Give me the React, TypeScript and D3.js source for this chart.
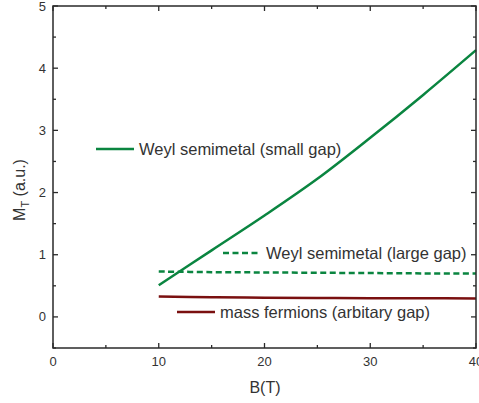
import * as d3 from "d3";
import React from "react";

const width = 479;
const height = 403;
const margin = { top: 6, right: 3, bottom: 55, left: 53 };

// B field (T)
const fieldB = [10, 15, 20, 25, 30, 35, 40];
const smallGap = [0.51, 1.07, 1.63, 2.22, 2.88, 3.57, 4.29];
const largeGap = [0.73, 0.72, 0.715, 0.71, 0.705, 0.70, 0.70];
const massFermions = [0.33, 0.315, 0.31, 0.305, 0.30, 0.30, 0.295];

const xTicks = [0, 10, 20, 30, 40];
const xMinorTicks = [5, 15, 25, 35];
const yTicks = [0, 1, 2, 3, 4, 5];
const yMinorTicks = [-0.5, 0.5, 1.5, 2.5, 3.5, 4.5];

const green = "#0a8540";
const darkRed = "#7a1010";
const axisColor = "#2a2a2a";
const font = "Arial, 'Liberation Sans', sans-serif";

const x = d3.scaleLinear().domain([0, 40]).range([margin.left, width - margin.right]);
const y = d3.scaleLinear().domain([-0.5, 5]).range([height - margin.bottom, margin.top]);

const line = d3
  .line<number>()
  .x((_, i) => x(fieldB[i]))
  .y((d) => y(d))
  .curve(d3.curveCatmullRom);

const App = () => {
  const x0 = x.range()[0];
  const x1 = x.range()[1];
  const y0 = y.range()[0];
  const y1 = y.range()[1];
  const tl = 5;
  return (
    <svg
      width={width}
      height={height}
      style={{ position: "absolute", left: 0, top: 0, background: "#fff" }}
      fontFamily={font}
    >
      {/* data */}
      <path d={line(smallGap)!} fill="none" stroke={green} strokeWidth={2.5} />
      <path d={line(largeGap)!} fill="none" stroke={green} strokeWidth={2.5} strokeDasharray="6,3.5" />
      <path d={line(massFermions)!} fill="none" stroke={darkRed} strokeWidth={2.5} />

      {/* frame */}
      <rect x={x0} y={y1} width={x1 - x0} height={y0 - y1} fill="none" stroke={axisColor} strokeWidth={1.5} />

      {/* x ticks */}
      {xTicks.map((t) => (
        <g key={"x" + t}>
          <line x1={x(t)} x2={x(t)} y1={y0} y2={y0 - tl} stroke={axisColor} strokeWidth={1.3} />
          <line x1={x(t)} x2={x(t)} y1={y1} y2={y1 + tl} stroke={axisColor} strokeWidth={1.3} />
          <text x={x(t)} y={366} textAnchor="middle" fontSize={13} fill="#333">
            {t}
          </text>
        </g>
      ))}
      {xMinorTicks.map((t) => (
        <g key={"xm" + t}>
          <line x1={x(t)} x2={x(t)} y1={y0} y2={y0 - 3} stroke={axisColor} strokeWidth={1.3} />
          <line x1={x(t)} x2={x(t)} y1={y1} y2={y1 + 3} stroke={axisColor} strokeWidth={1.3} />
        </g>
      ))}

      {/* y ticks */}
      {yTicks.map((t) => (
        <g key={"y" + t}>
          <line x1={x0} x2={x0 + tl} y1={y(t)} y2={y(t)} stroke={axisColor} strokeWidth={1.3} />
          <line x1={x1} x2={x1 - tl} y1={y(t)} y2={y(t)} stroke={axisColor} strokeWidth={1.3} />
          <text x={46} y={y(t)} dy="0.35em" textAnchor="end" fontSize={13} fill="#333">
            {t}
          </text>
        </g>
      ))}
      {yMinorTicks.map((t) => (
        <g key={"ym" + t}>
          <line x1={x0} x2={x0 + 3} y1={y(t)} y2={y(t)} stroke={axisColor} strokeWidth={1.3} />
          <line x1={x1} x2={x1 - 3} y1={y(t)} y2={y(t)} stroke={axisColor} strokeWidth={1.3} />
        </g>
      ))}

      {/* axis titles */}
      <text x={265} y={393} textAnchor="middle" fontSize={16} fill="#333">
        B(T)
      </text>
      <text transform="translate(25,190) rotate(-90)" textAnchor="middle" fontSize={16} fill="#333">
        M
        <tspan fontSize={11} dy={4}>T</tspan>
        <tspan dy={-4}> (a.u.)</tspan>
      </text>

      {/* legends */}
      <line x1={96} x2={134} y1={149} y2={149} stroke={green} strokeWidth={2.5} />
      <text x={139} y={149} dy="0.35em" fontSize={16.5} fill="#333">
        Weyl semimetal (small gap)
      </text>
      <line x1={223} x2={259} y1={253} y2={253} stroke={green} strokeWidth={2.5} strokeDasharray="6,3.5" />
      <text x={266} y={253} dy="0.35em" fontSize={16.5} fill="#333">
        Weyl semimetal (large gap)
      </text>
      <line x1={177} x2={215} y1={312} y2={312} stroke={darkRed} strokeWidth={2.5} />
      <text x={220} y={312} dy="0.35em" fontSize={16.5} fill="#333">
        mass fermions (arbitary gap)
      </text>
    </svg>
  );
};

export default App;
